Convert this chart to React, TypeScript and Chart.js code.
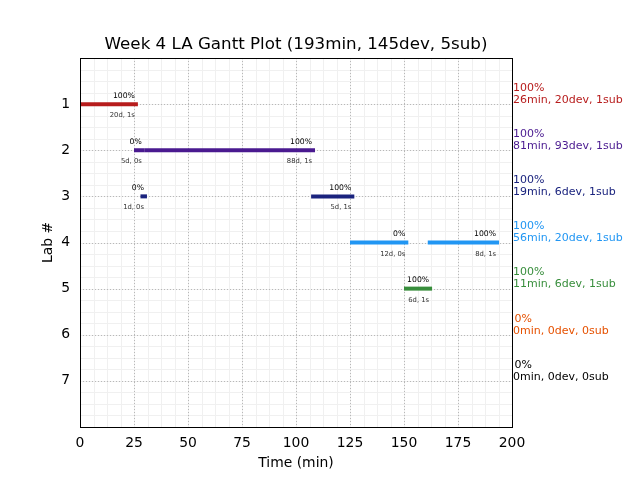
import React, { useEffect, useRef } from "react";
import { Chart, registerables } from "chart.js";

Chart.register(...registerables);

// ---- data ----
const titleText = "Week 4 LA Gantt Plot (193min, 145dev, 5sub)";
const xTitle = "Time (min)";
const yTitle = "Lab #";
const labs = [1, 2, 3, 4, 5, 6, 7];
const labColors = ["#b71c1c", "#4a1a90", "#1a237e", "#2196f3", "#388e3c", "#e65100", "#000000"];
const labPercent = ["100%", "100%", "100%", "100%", "100%", "0%", "0%"];
const labSummary = [
  "26min, 20dev, 1sub",
  "81min, 93dev, 1sub",
  "19min, 6dev, 1sub",
  "56min, 20dev, 1sub",
  "11min, 6dev, 1sub",
  "0min, 0dev, 0sub",
  "0min, 0dev, 0sub",
];
const segLab = [1, 2, 2, 3, 3, 4, 4, 5];
const segStart = [0, 25, 30, 28, 107, 125, 161, 150];
const segEnd = [26.8, 30, 108.8, 31, 127, 152, 194, 163];
const segTop = ["100%", "0%", "100%", "0%", "100%", "0%", "100%", "100%"];
const segBottom = ["20d, 1s", "5d, 0s", "88d, 1s", "1d, 0s", "5d, 1s", "12d, 0s", "8d, 1s", "6d, 1s"];
const xTicks = [0, 25, 50, 75, 100, 125, 150, 175, 200];

const FONT = "'DejaVu Sans', sans-serif";

const overlay = {
  id: "overlay",
  beforeDatasetsDraw(chart: any) {
    const { ctx, chartArea: a, scales } = chart;
    const xs = scales.x;
    const ys = scales.y;
    ctx.save();
    // minor grid
    ctx.strokeStyle = "#f0f0f0";
    ctx.lineWidth = 1;
    ctx.setLineDash([]);
    for (let v = 0; v <= 200; v += 6.25) {
      const p = Math.round(xs.getPixelForValue(v)) + 0.5;
      ctx.beginPath();
      ctx.moveTo(p, a.top);
      ctx.lineTo(p, a.bottom);
      ctx.stroke();
    }
    for (let v = 0; v <= 8; v += 0.25) {
      const p = Math.round(ys.getPixelForValue(v)) + 0.5;
      ctx.beginPath();
      ctx.moveTo(a.left, p);
      ctx.lineTo(a.right, p);
      ctx.stroke();
    }
    // major grid (dotted)
    ctx.strokeStyle = "#b8b8b8";
    ctx.setLineDash([1, 2]);
    for (const v of xTicks) {
      const p = Math.round(xs.getPixelForValue(v)) + 0.5;
      ctx.beginPath();
      ctx.moveTo(p, a.top);
      ctx.lineTo(p, a.bottom);
      ctx.stroke();
    }
    for (const v of labs) {
      const p = Math.round(ys.getPixelForValue(v)) + 0.5;
      ctx.beginPath();
      ctx.moveTo(a.left, p);
      ctx.lineTo(a.right, p);
      ctx.stroke();
    }
    ctx.restore();
  },
  afterDatasetsDraw(chart: any) {
    const { ctx, chartArea: a, scales } = chart;
    const xs = scales.x;
    const ys = scales.y;
    ctx.save();
    // frame
    ctx.strokeStyle = "#000";
    ctx.lineWidth = 1;
    ctx.setLineDash([]);
    ctx.strokeRect(Math.round(a.left) + 0.5, Math.round(a.top) + 0.5, Math.round(a.right - a.left), Math.round(a.bottom - a.top));
    // segment labels
    ctx.textAlign = "right";
    ctx.textBaseline = "middle";
    segLab.forEach((lab, i) => {
      const x = xs.getPixelForValue(segEnd[i]) - 3;
      const y = ys.getPixelForValue(lab);
      ctx.fillStyle = "#000";
      ctx.font = `7.7px ${FONT}`;
      ctx.fillText(segTop[i], x, y - 8.3);
      ctx.fillStyle = "#333";
      ctx.font = `6.8px ${FONT}`;
      ctx.fillText(segBottom[i], x, y + 11.3);
    });
    // right side summaries
    ctx.textAlign = "left";
    ctx.font = `11px ${FONT}`;
    labs.forEach((lab, i) => {
      const y = ys.getPixelForValue(lab);
      ctx.fillStyle = labColors[i];
      ctx.fillText(labPercent[i], a.right + 1 + (labPercent[i].length < 4 ? 1.5 : 0), y - 16);
      ctx.fillText(labSummary[i], a.right + 1, y - 4);
    });
    // titles
    ctx.fillStyle = "#000";
    ctx.textAlign = "center";
    ctx.font = `16.7px ${FONT}`;
    ctx.fillText(titleText, (a.left + a.right) / 2, 45);
    ctx.font = `13.9px ${FONT}`;
    ctx.fillText(xTitle, (a.left + a.right) / 2, 463);
    ctx.translate(48, (a.top + a.bottom) / 2);
    ctx.rotate(-Math.PI / 2);
    ctx.fillText(yTitle, 0, 0);
    ctx.restore();
  },
};

export default function App() {
  const ref = useRef<HTMLCanvasElement | null>(null);
  useEffect(() => {
    document.body.style.margin = "0";
    const canvas = ref.current!;
    const datasets = segLab.map((lab, i) => ({
      data: [
        { x: segStart[i], y: lab },
        { x: segEnd[i], y: lab },
      ],
      borderColor: labColors[lab - 1],
      backgroundColor: labColors[lab - 1],
      borderWidth: 4,
      borderCapStyle: "butt" as const,
      pointRadius: 0,
      showLine: true,
      fill: false,
    }));
    const chart = new Chart(canvas, {
      type: "scatter",
      data: { datasets },
      options: {
        animation: false,
        responsive: false,
        devicePixelRatio: 1,
        layout: { padding: { top: 58, right: 128, left: 0, bottom: 0 } },
        plugins: { legend: { display: false }, tooltip: { enabled: false }, title: { display: false } },
        scales: {
          x: {
            type: "linear",
            min: 0,
            max: 200,
            grid: { display: false, drawTicks: false },
            border: { display: false },
            ticks: {
              stepSize: 25,
              padding: 8,
              color: "#000",
              font: { family: FONT, size: 13.9 },
              maxRotation: 0,
            },
            afterFit: (s: any) => {
              s.height = 53;
            },
          },
          y: {
            type: "linear",
            min: 0,
            max: 8,
            reverse: true,
            grid: { display: false, drawTicks: false },
            border: { display: false },
            ticks: {
              stepSize: 1,
              padding: 10,
              color: "#000",
              font: { family: FONT, size: 13.9 },
              callback: (v: any) => (labs.includes(Number(v)) ? String(v) : ""),
            },
            afterFit: (s: any) => {
              s.width = 80;
            },
          },
        },
      },
      plugins: [overlay],
    });
    return () => chart.destroy();
  }, []);
  return (
    <div style={{ position: "fixed", left: 0, top: 0, width: 640, height: 480, background: "#fff" }}>
      <canvas ref={ref} width={640} height={480} style={{ display: "block" }} />
    </div>
  );
}
